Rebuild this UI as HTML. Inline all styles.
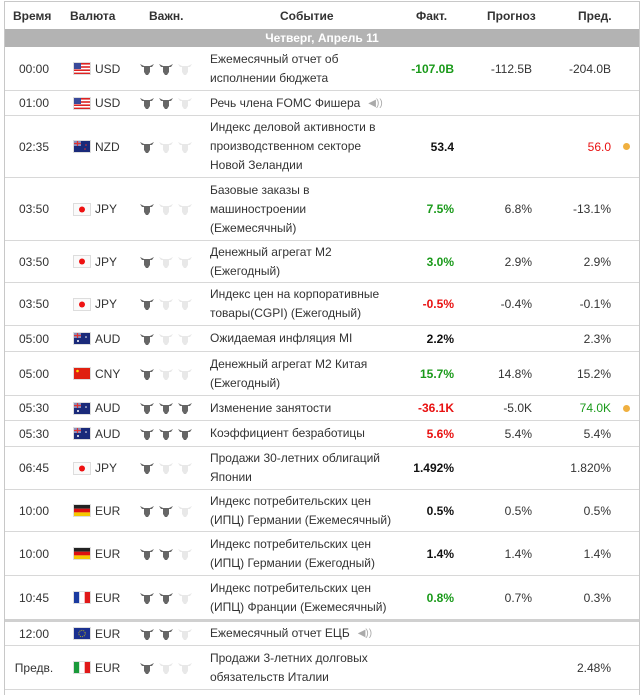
<!DOCTYPE html>
<html><head><meta charset="utf-8">
<style>
body{margin:0;background:#fff;width:644px;height:694px;overflow:hidden;font-family:"Liberation Sans",Arial,sans-serif;font-size:12px;color:#333;position:relative}
.box{position:absolute;left:4px;top:1px;width:634px;height:693px;border-left:1px solid #c8c8c8;border-right:1px solid #c8c8c8;border-top:1px solid #c8c8c8}
.r{position:absolute;left:5px;width:634px;border-bottom:1px solid #d8d8d8}
.r>div{position:absolute;top:0;height:100%;display:flex;align-items:center}
.t{left:0;width:58px;justify-content:center}
.f{left:69px}
.c{left:90px}
.b{left:135px}
.e{left:205px;width:240px;line-height:19px;white-space:nowrap}
.a{right:185px;font-weight:bold;color:#111}
.p{right:107px}
.v{right:28px}
.d{right:9px}
.d i{display:block;width:7px;height:7px;border-radius:50%;background:#f0b040}
.g{color:#1a9a1a}.red{color:#e81010}
.flag{width:16px;height:11px;box-shadow:0 0 0 1px #ddd;display:block}
svg.bull{width:14px;height:12px;margin-right:5px}
.hd{position:absolute;top:1px;left:5px;width:634px;height:28px;font-weight:bold;font-size:12px;color:#333}
.hd span{position:absolute;top:8px}
.bar{position:absolute;top:29px;left:5px;width:634px;height:18px;background:#b3b3b3;color:#fff;font-weight:bold;text-align:center;line-height:18px}
.spk{display:inline-block;margin-left:8px;color:#aaa;font-size:10px}
</style></head><body>
<svg width="0" height="0" style="position:absolute">
<defs>
<symbol id="bu" viewBox="0 0 14 12"><path d="M0 1 L2 4 L4 4 L4 9 L6 12 L8 12 L10 9 L10 4 L12 4 L14 1 L12 2 L10 3 L4 3 L2 2 Z"/></symbol>
</defs></svg>
<div class="box"></div>
<div class="hd"><span style="left:8px">Время</span><span style="left:65px">Валюта</span><span style="left:144px">Важн.</span><span style="left:275px">Событие</span><span style="left:411px">Факт.</span><span style="left:482px">Прогноз</span><span style="left:573px">Пред.</span></div>
<div class="bar">Четверг, Апрель 11</div>

<div class="r" style="top:47px;height:43px"><div class="t">00:00</div><div class="f"><svg class="flag" viewBox="0 0 16 11"><rect width="16" height="11" fill="#fff"/><g fill="#d22"><rect y="0" width="16" height="1.6"/><rect y="3.2" width="16" height="1.6"/><rect y="6.4" width="16" height="1.6"/><rect y="9.6" width="16" height="1.4"/></g><rect width="7" height="6" fill="#3a4a9a"/></svg></div><div class="c">USD</div><div class="b"><svg class="bull" fill="#666"><use href="#bu"/></svg><svg class="bull" fill="#666"><use href="#bu"/></svg><svg class="bull" fill="#e8e8e8"><use href="#bu"/></svg></div><div class="e">Ежемесячный отчет об<br>исполнении бюджета</div><div class="a g">-107.0B</div><div class="p">-112.5B</div><div class="v">-204.0B</div></div>

<div class="r" style="top:91px;height:24px"><div class="t">01:00</div><div class="f"><svg class="flag" viewBox="0 0 16 11"><rect width="16" height="11" fill="#fff"/><g fill="#d22"><rect y="0" width="16" height="1.6"/><rect y="3.2" width="16" height="1.6"/><rect y="6.4" width="16" height="1.6"/><rect y="9.6" width="16" height="1.4"/></g><rect width="7" height="6" fill="#3a4a9a"/></svg></div><div class="c">USD</div><div class="b"><svg class="bull" fill="#666"><use href="#bu"/></svg><svg class="bull" fill="#666"><use href="#bu"/></svg><svg class="bull" fill="#e8e8e8"><use href="#bu"/></svg></div><div class="e">Речь члена FOMC Фишера<span class="spk">◀))</span></div></div>

<div class="r" style="top:116px;height:61px"><div class="t">02:35</div><div class="f"><svg class="flag" viewBox="0 0 16 11"><rect width="16" height="11" fill="#1a2a7a"/><rect width="7" height="5" fill="#8890c0"/><path d="M0 2.5H7M3.5 0V5" stroke="#d33" stroke-width="1.2"/><circle cx="12" cy="4" r=".8" fill="#d33"/><circle cx="11" cy="8" r=".8" fill="#d33"/></svg></div><div class="c">NZD</div><div class="b"><svg class="bull" fill="#666"><use href="#bu"/></svg><svg class="bull" fill="#e8e8e8"><use href="#bu"/></svg><svg class="bull" fill="#e8e8e8"><use href="#bu"/></svg></div><div class="e">Индекс деловой активности в<br>производственном секторе<br>Новой Зеландии</div><div class="a">53.4</div><div class="v red">56.0</div><div class="d"><i></i></div></div>

<div class="r" style="top:178px;height:62px"><div class="t">03:50</div><div class="f"><svg class="flag" viewBox="0 0 16 11"><rect width="16" height="11" fill="#fafafa"/><circle cx="8" cy="5.5" r="3" fill="#e11"/></svg></div><div class="c">JPY</div><div class="b"><svg class="bull" fill="#666"><use href="#bu"/></svg><svg class="bull" fill="#e8e8e8"><use href="#bu"/></svg><svg class="bull" fill="#e8e8e8"><use href="#bu"/></svg></div><div class="e">Базовые заказы в<br>машиностроении<br>(Ежемесячный)</div><div class="a g">7.5%</div><div class="p">6.8%</div><div class="v">-13.1%</div></div>

<div class="r" style="top:241px;height:41px"><div class="t">03:50</div><div class="f"><svg class="flag" viewBox="0 0 16 11"><rect width="16" height="11" fill="#fafafa"/><circle cx="8" cy="5.5" r="3" fill="#e11"/></svg></div><div class="c">JPY</div><div class="b"><svg class="bull" fill="#666"><use href="#bu"/></svg><svg class="bull" fill="#e8e8e8"><use href="#bu"/></svg><svg class="bull" fill="#e8e8e8"><use href="#bu"/></svg></div><div class="e">Денежный агрегат M2<br>(Ежегодный)</div><div class="a g">3.0%</div><div class="p">2.9%</div><div class="v">2.9%</div></div>

<div class="r" style="top:283px;height:42px"><div class="t">03:50</div><div class="f"><svg class="flag" viewBox="0 0 16 11"><rect width="16" height="11" fill="#fafafa"/><circle cx="8" cy="5.5" r="3" fill="#e11"/></svg></div><div class="c">JPY</div><div class="b"><svg class="bull" fill="#666"><use href="#bu"/></svg><svg class="bull" fill="#e8e8e8"><use href="#bu"/></svg><svg class="bull" fill="#e8e8e8"><use href="#bu"/></svg></div><div class="e">Индекс цен на корпоративные<br>товары(CGPI) (Ежегодный)</div><div class="a red">-0.5%</div><div class="p">-0.4%</div><div class="v">-0.1%</div></div>

<div class="r" style="top:326px;height:25px"><div class="t">05:00</div><div class="f"><svg class="flag" viewBox="0 0 16 11"><rect width="16" height="11" fill="#1a2a7a"/><rect width="7" height="5" fill="#8890c0"/><path d="M0 2.5H7M3.5 0V5" stroke="#d33" stroke-width="1.2"/><circle cx="12" cy="4" r=".8" fill="#fff"/><circle cx="4" cy="8" r="1" fill="#fff"/></svg></div><div class="c">AUD</div><div class="b"><svg class="bull" fill="#666"><use href="#bu"/></svg><svg class="bull" fill="#e8e8e8"><use href="#bu"/></svg><svg class="bull" fill="#e8e8e8"><use href="#bu"/></svg></div><div class="e">Ожидаемая инфляция MI</div><div class="a">2.2%</div><div class="v">2.3%</div></div>

<div class="r" style="top:352px;height:43px"><div class="t">05:00</div><div class="f"><svg class="flag" viewBox="0 0 16 11"><rect width="16" height="11" fill="#e02010"/><circle cx="3.5" cy="3" r="1.3" fill="#fd0"/></svg></div><div class="c">CNY</div><div class="b"><svg class="bull" fill="#666"><use href="#bu"/></svg><svg class="bull" fill="#e8e8e8"><use href="#bu"/></svg><svg class="bull" fill="#e8e8e8"><use href="#bu"/></svg></div><div class="e">Денежный агрегат M2 Китая<br>(Ежегодный)</div><div class="a g">15.7%</div><div class="p">14.8%</div><div class="v">15.2%</div></div>

<div class="r" style="top:396px;height:24px"><div class="t">05:30</div><div class="f"><svg class="flag" viewBox="0 0 16 11"><rect width="16" height="11" fill="#1a2a7a"/><rect width="7" height="5" fill="#8890c0"/><path d="M0 2.5H7M3.5 0V5" stroke="#d33" stroke-width="1.2"/><circle cx="12" cy="4" r=".8" fill="#fff"/><circle cx="4" cy="8" r="1" fill="#fff"/></svg></div><div class="c">AUD</div><div class="b"><svg class="bull" fill="#666"><use href="#bu"/></svg><svg class="bull" fill="#666"><use href="#bu"/></svg><svg class="bull" fill="#666"><use href="#bu"/></svg></div><div class="e">Изменение занятости</div><div class="a red">-36.1K</div><div class="p">-5.0K</div><div class="v g">74.0K</div><div class="d"><i></i></div></div>

<div class="r" style="top:421px;height:25px"><div class="t">05:30</div><div class="f"><svg class="flag" viewBox="0 0 16 11"><rect width="16" height="11" fill="#1a2a7a"/><rect width="7" height="5" fill="#8890c0"/><path d="M0 2.5H7M3.5 0V5" stroke="#d33" stroke-width="1.2"/><circle cx="12" cy="4" r=".8" fill="#fff"/><circle cx="4" cy="8" r="1" fill="#fff"/></svg></div><div class="c">AUD</div><div class="b"><svg class="bull" fill="#666"><use href="#bu"/></svg><svg class="bull" fill="#666"><use href="#bu"/></svg><svg class="bull" fill="#666"><use href="#bu"/></svg></div><div class="e">Коэффициент безработицы</div><div class="a red">5.6%</div><div class="p">5.4%</div><div class="v">5.4%</div></div>

<div class="r" style="top:447px;height:42px"><div class="t">06:45</div><div class="f"><svg class="flag" viewBox="0 0 16 11"><rect width="16" height="11" fill="#fafafa"/><circle cx="8" cy="5.5" r="3" fill="#e11"/></svg></div><div class="c">JPY</div><div class="b"><svg class="bull" fill="#666"><use href="#bu"/></svg><svg class="bull" fill="#e8e8e8"><use href="#bu"/></svg><svg class="bull" fill="#e8e8e8"><use href="#bu"/></svg></div><div class="e">Продажи 30-летних облигаций<br>Японии</div><div class="a">1.492%</div><div class="v">1.820%</div></div>

<div class="r" style="top:490px;height:41px"><div class="t">10:00</div><div class="f"><svg class="flag" viewBox="0 0 16 11"><rect width="16" height="3.7" fill="#222"/><rect y="3.7" width="16" height="3.7" fill="#dd1010"/><rect y="7.4" width="16" height="3.6" fill="#f5c800"/></svg></div><div class="c">EUR</div><div class="b"><svg class="bull" fill="#666"><use href="#bu"/></svg><svg class="bull" fill="#666"><use href="#bu"/></svg><svg class="bull" fill="#e8e8e8"><use href="#bu"/></svg></div><div class="e">Индекс потребительских цен<br>(ИПЦ) Германии (Ежемесячный)</div><div class="a">0.5%</div><div class="p">0.5%</div><div class="v">0.5%</div></div>

<div class="r" style="top:532px;height:43px"><div class="t">10:00</div><div class="f"><svg class="flag" viewBox="0 0 16 11"><rect width="16" height="3.7" fill="#222"/><rect y="3.7" width="16" height="3.7" fill="#dd1010"/><rect y="7.4" width="16" height="3.6" fill="#f5c800"/></svg></div><div class="c">EUR</div><div class="b"><svg class="bull" fill="#666"><use href="#bu"/></svg><svg class="bull" fill="#666"><use href="#bu"/></svg><svg class="bull" fill="#e8e8e8"><use href="#bu"/></svg></div><div class="e">Индекс потребительских цен<br>(ИПЦ) Германии (Ежегодный)</div><div class="a">1.4%</div><div class="p">1.4%</div><div class="v">1.4%</div></div>

<div class="r" style="top:576px;height:43px;border-bottom:3px solid #d0d0d0"><div class="t">10:45</div><div class="f"><svg class="flag" viewBox="0 0 16 11"><rect width="5.3" height="11" fill="#1a3aa0"/><rect x="5.3" width="5.4" height="11" fill="#fff"/><rect x="10.7" width="5.3" height="11" fill="#e01818"/></svg></div><div class="c">EUR</div><div class="b"><svg class="bull" fill="#666"><use href="#bu"/></svg><svg class="bull" fill="#666"><use href="#bu"/></svg><svg class="bull" fill="#e8e8e8"><use href="#bu"/></svg></div><div class="e">Индекс потребительских цен<br>(ИПЦ) Франции (Ежемесячный)</div><div class="a g">0.8%</div><div class="p">0.7%</div><div class="v">0.3%</div></div>

<div class="r" style="top:622px;height:23px"><div class="t">12:00</div><div class="f"><svg class="flag" viewBox="0 0 16 11"><rect width="16" height="11" fill="#1a3090"/><circle cx="8" cy="5.5" r="3.2" fill="none" stroke="#dc0" stroke-width=".8" stroke-dasharray="1 1"/></svg></div><div class="c">EUR</div><div class="b"><svg class="bull" fill="#666"><use href="#bu"/></svg><svg class="bull" fill="#666"><use href="#bu"/></svg><svg class="bull" fill="#e8e8e8"><use href="#bu"/></svg></div><div class="e">Ежемесячный отчет ЕЦБ<span class="spk">◀))</span></div></div>

<div class="r" style="top:646px;height:43px"><div class="t">Предв.</div><div class="f"><svg class="flag" viewBox="0 0 16 11"><rect width="5.3" height="11" fill="#1a9a3a"/><rect x="5.3" width="5.4" height="11" fill="#fff"/><rect x="10.7" width="5.3" height="11" fill="#e01818"/></svg></div><div class="c">EUR</div><div class="b"><svg class="bull" fill="#666"><use href="#bu"/></svg><svg class="bull" fill="#e8e8e8"><use href="#bu"/></svg><svg class="bull" fill="#e8e8e8"><use href="#bu"/></svg></div><div class="e">Продажи 3-летних долговых<br>обязательств Италии</div><div class="v">2.48%</div></div>
</body></html>
